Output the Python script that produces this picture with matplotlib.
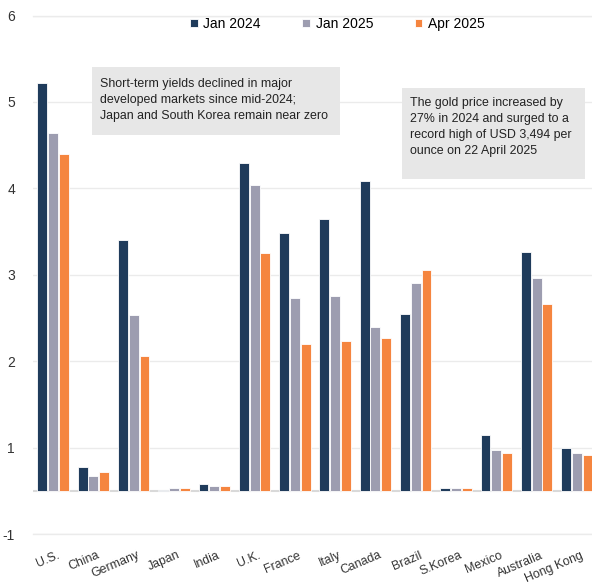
import numpy as np
import matplotlib.pyplot as plt
from matplotlib.patches import Rectangle

countries = ['U.S.', 'China', 'Germany', 'Japan', 'India', 'U.K.', 'France',
             'Italy', 'Canada', 'Brazil', 'S.Korea', 'Mexico', 'Australia', 'Hong Kong']
# bar tops (axis units, bars rise from the 0.5 baseline)
jan24 = [5.22, 0.78, 3.40, 0.51, 0.58, 4.29, 3.48, 3.65, 4.09, 2.55, 0.53, 1.15, 3.26, 0.99]
jan25 = [4.64, 0.67, 2.54, 0.53, 0.56, 4.04, 2.73, 2.75, 2.40, 2.91, 0.53, 0.97, 2.96, 0.94]
apr25 = [4.40, 0.72, 2.06, 0.53, 0.56, 3.25, 2.20, 2.23, 2.27, 3.05, 0.53, 0.94, 2.66, 0.91]
series = ['Jan 2024', 'Jan 2025', 'Apr 2025']
colors = ['#1f3b5b', '#9d9db0', '#f5853f']
base = 0.5
yticks = [0, 1, 2, 3, 4, 5, 6]
ylabels = ['-1', '1', '2', '3', '4', '5', '6']

plt.rcParams['font.family'] = ['Liberation Sans', 'DejaVu Sans']

fig = plt.figure(figsize=(5.92, 5.88), dpi=100)
ax = fig.add_axes([33 / 592, 54 / 588, 564 / 592, 518.5 / 588])

x = np.arange(len(countries))
w = 0.267
for i, (vals, c, lab) in enumerate(zip([jan24, jan25, apr25], colors, series)):
    v = np.array(vals)
    ax.bar(x + (i - 1) * w, v - base, bottom=base, width=0.245, color=c,
           edgecolor='white', linewidth=0.6, label=lab, zorder=3)

ax.axhline(base, color='#d9d9d9', lw=1.5, zorder=2)
ax.set_xlim(-0.5, 13.5)
ax.set_ylim(0, 6)
ax.set_yticks(yticks)
ax.set_yticklabels(ylabels, fontsize=10, color='#333333')
ax.yaxis.grid(True, color='#ebebeb', lw=1, zorder=0)
ax.tick_params(axis='y', length=0, pad=13)
ax.tick_params(axis='x', length=0, pad=11)
ax.set_xticks(x + 0.08)
ax.set_xticklabels(countries, fontsize=8.9, color='#333333', rotation=23,
                   ha='right', va='top', rotation_mode='anchor')
for s in ax.spines.values():
    s.set_visible(False)
for y in (0, 6):
    ax.axhline(y, color='#ebebeb', lw=1, clip_on=False, zorder=0)

fig.legend(loc='center', bbox_to_anchor=(0.57, 0.959), ncol=3, frameon=False,
           fontsize=10, handlelength=0.55, handleheight=0.55, handletextpad=0.4,
           columnspacing=3.0)

# annotation boxes
fig.patches.append(Rectangle((92 / 592, 1 - 135 / 588), 248 / 592, 68 / 588,
                             transform=fig.transFigure, facecolor='#e7e7e7',
                             edgecolor='none', zorder=5))
fig.text(100 / 592, 1 - 78 / 588,
         'Short-term yields declined in major\ndeveloped markets since mid-2024;\n'
         'Japan and South Korea remain near zero',
         fontsize=8.9, va='top', ha='left', color='#222222', linespacing=1.45,
         zorder=6)
fig.patches.append(Rectangle((402 / 592, 1 - 179 / 588), 183 / 592, 91 / 588,
                             transform=fig.transFigure, facecolor='#e7e7e7',
                             edgecolor='none', zorder=5))
fig.text(410 / 592, 1 - 97 / 588,
         'The gold price increased by\n27% in 2024 and surged to a\n'
         'record high of USD 3,494 per\nounce on 22 April 2025',
         fontsize=8.9, va='top', ha='left', color='#222222', linespacing=1.45,
         zorder=6)

fig.savefig('out.png', dpi=100)
